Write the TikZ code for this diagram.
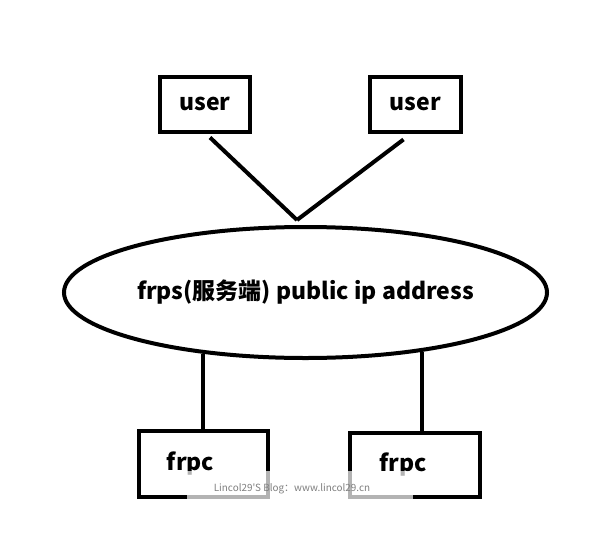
\documentclass[tikz,border=0pt]{standalone}
\usepackage{fontspec}
\usepackage{tikz}
\usetikzlibrary{calc, shapes.geometric}
\newfontfamily\cjk{Noto Sans CJK SC}
\newfontfamily\cjkmark[Ligatures=TeXOff]{Noto Sans CJK SC}

\begin{document}
\begin{tikzpicture}[x=1pt, y=-1pt,
    box/.style={draw, line width=4pt, inner sep=0pt, font=\cjk\bfseries\fontsize{23}{26}\selectfont},
    server/.style={draw, ellipse, line width=4pt, inner sep=0pt, minimum width=483pt, minimum height=131pt, font=\cjk\bfseries\fontsize{23}{26}\selectfont},
    link/.style={line width=4pt},
    watermark/.style={fill=white, fill opacity=0.7, inner sep=0pt},
    marktext/.style={text=gray, inner sep=0pt, font=\cjkmark\fontsize{9.9}{11}\selectfont},
]
\fill[white] (0,0) rectangle (602,538);
\useasboundingbox (0,0) rectangle (602,538);

\node[box, minimum width=90pt, minimum height=55pt] (user1) at (205,104) {user};
\node[box, minimum width=91pt, minimum height=55pt] (user2) at (415.5,104) {user};
\node[server] (frps) at (305.5,292.5) {frps(服务端) public ip address};
\node[box, minimum width=129pt, minimum height=66pt, label={[font=\cjk\bfseries\fontsize{23}{26}\selectfont, xshift=-13pt]center:frpc}] (frpc1) at (203.5,464) {};
\node[box, minimum width=130pt, minimum height=64pt, label={[font=\cjk\bfseries\fontsize{23}{26}\selectfont, xshift=-12pt]center:frpc}] (frpc2) at (415,465) {};

\coordinate (meet) at (297,220);
\draw[link] ([xshift=5pt, yshift=-4pt]user1.south) -- (meet);
\draw[link] ([xshift=-12pt, yshift=-6pt]user2.south) -- (meet);
\draw[link] (frps.211) -- (frps.211 |- frpc1.north);
\draw[link] (frps.333) -- (frps.333 |- frpc2.north);

\node[watermark, minimum width=226pt, minimum height=30pt] (blog) at (300,486) {};
\node[marktext] (blogtext) at (292,489) {Lincol29'S Blog：www.lincol29.cn};
\end{tikzpicture}
\end{document}
